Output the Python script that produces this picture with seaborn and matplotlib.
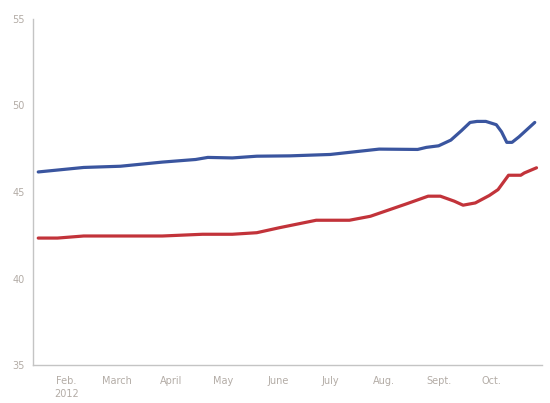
import matplotlib
matplotlib.use('Agg')
import matplotlib.pyplot as plt
import seaborn as sns
import pandas as pd

# values
blue_dates = ['2012-01-16', '2012-02-11', '2012-03-03', '2012-03-27', '2012-04-15',
              '2012-04-22', '2012-05-06', '2012-05-20', '2012-06-08', '2012-07-01',
              '2012-07-29', '2012-08-20', '2012-08-25', '2012-09-01', '2012-09-08',
              '2012-09-14', '2012-09-19', '2012-09-23', '2012-09-28', '2012-10-04',
              '2012-10-07', '2012-10-10', '2012-10-13', '2012-10-17', '2012-10-26']
blue_values = [46.16, 46.42, 46.49, 46.73, 46.88,
               47.0, 46.97, 47.07, 47.09, 47.17,
               47.48, 47.46, 47.58, 47.67, 48.0,
               48.54, 49.02, 49.08, 49.08, 48.89,
               48.48, 47.87, 47.87, 48.19, 49.02]

red_dates = ['2012-01-16', '2012-01-27', '2012-02-11', '2012-03-27', '2012-04-19',
             '2012-05-06', '2012-05-20', '2012-06-02', '2012-06-23', '2012-07-12',
             '2012-07-24', '2012-08-14', '2012-08-26', '2012-09-02', '2012-09-10',
             '2012-09-15', '2012-09-22', '2012-09-30', '2012-10-05', '2012-10-11',
             '2012-10-18', '2012-10-20', '2012-10-27']
red_values = [42.34, 42.34, 42.46, 42.46, 42.56,
              42.56, 42.65, 42.94, 43.37, 43.37,
              43.6, 44.33, 44.76, 44.76, 44.47,
              44.24, 44.37, 44.8, 45.14, 45.97,
              45.97, 46.1, 46.4]

month_ticks = ['2012-02-01', '2012-03-01', '2012-04-01', '2012-05-01', '2012-06-01',
               '2012-07-01', '2012-08-01', '2012-09-01', '2012-10-01']
month_labels = ['Feb.\n2012', 'March', 'April', 'May', 'June', 'July', 'Aug.', 'Sept.', 'Oct.']
y_ticks = [35, 40, 45, 50, 55]

blue_df = pd.DataFrame({'date': pd.to_datetime(blue_dates), 'value': blue_values})
red_df = pd.DataFrame({'date': pd.to_datetime(red_dates), 'value': red_values})

sns.set_style('white')
plt.rcParams['font.family'] = ['DejaVu Sans']

fig = plt.figure(figsize=(5.5, 4.03), dpi=100)
ax = fig.add_axes([0.06, 0.094, 0.925, 0.859])

sns.lineplot(data=blue_df, x='date', y='value', color='#3a559f', linewidth=2.3, ax=ax)
sns.lineplot(data=red_df, x='date', y='value', color='#c2333a', linewidth=2.3, ax=ax)

ax.set_xlim(pd.Timestamp('2012-01-13'), pd.Timestamp('2012-10-30'))
ax.set_ylim(35, 55)
ax.set_xticks(pd.to_datetime(month_ticks))
ax.set_xticklabels(month_labels, linespacing=1.4)
ax.set_yticks(y_ticks)
ax.set_xlabel('')
ax.set_ylabel('')

for side in ['top', 'right']:
    ax.spines[side].set_visible(False)
for side in ['left', 'bottom']:
    ax.spines[side].set_color('#c4c4c4')
    ax.spines[side].set_linewidth(1.0)

ax.tick_params(axis='both', which='both', length=3, width=0.8, color='#c8d4e4',
               labelcolor='#b3aca6', labelsize=7, pad=3)
ax.tick_params(axis='x', pad=5)
ax.grid(False)

fig.savefig('out.png', dpi=100)
plt.close(fig)
